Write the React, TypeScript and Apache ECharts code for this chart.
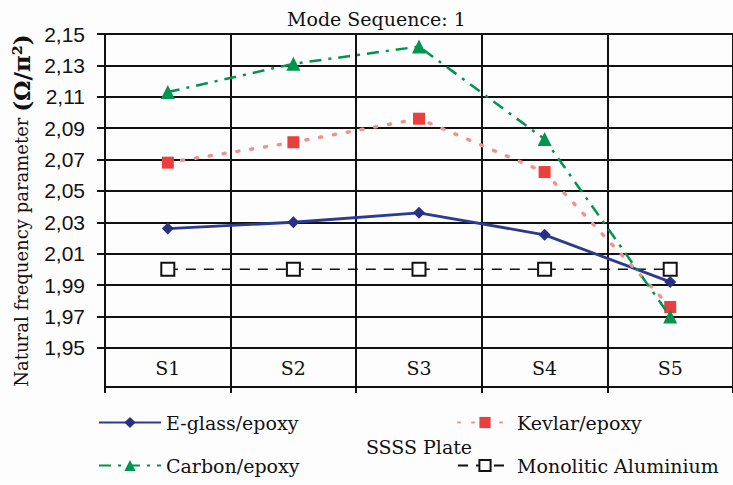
import React, { useEffect, useRef } from "react";
import * as echarts from "echarts";

const categories = ["S1", "S2", "S3", "S4", "S5"];
const eglass = [2.026, 2.03, 2.036, 2.022, 1.992];
const kevlar = [2.068, 2.081, 2.096, 2.062, 1.976];
const carbon = [2.113, 2.131, 2.142, 2.083, 1.97];
const aluminium = [2.0, 2.0, 2.0, 2.0, 2.0];
const yTicks = [1.95, 1.97, 1.99, 2.01, 2.03, 2.05, 2.07, 2.09, 2.11, 2.13, 2.15];
const yMin = 1.925;
const yMax = 2.15;

const SERIF = "DejaVu Serif";

export default function App() {
  const ref = useRef<HTMLDivElement>(null);
  useEffect(() => {
    if (!ref.current) return;
    const chart = echarts.init(ref.current, null, { renderer: "svg" });
    const gridLine = { color: "#111", width: 2 };
    chart.setOption({
      animation: false,
      backgroundColor: "#fdfdfe",
      title: {
        text: "Mode Sequence: 1",
        left: 282,
        top: 4,
        textStyle: { fontFamily: SERIF, fontSize: 19, fontWeight: "normal", color: "#111" },
      },
      grid: { left: 105, top: 34, width: 634, height: 353 },
      xAxis: {
        type: "category",
        data: categories,
        boundaryGap: true,
        name: "SSSS Plate",
        nameLocation: "middle",
        nameGap: 50,
        nameTextStyle: { fontFamily: SERIF, fontSize: 19, color: "#111" },
        axisLine: { lineStyle: gridLine },
        axisTick: { show: true, length: 6, lineStyle: gridLine },
        splitLine: { show: true, lineStyle: gridLine },
        axisLabel: { inside: true, margin: 10, fontFamily: SERIF, fontSize: 19, color: "#111" },
      },
      yAxis: {
        type: "value",
        min: yMin,
        max: yMax,
        name: "{a|Natural frequency parameter }{b|(Ω/π²)}",
        nameLocation: "middle",
        nameGap: 72,
        nameRotate: 90,
        nameTextStyle: {
          rich: {
            a: { fontFamily: SERIF, fontSize: 18, color: "#111" },
            b: { fontFamily: SERIF, fontSize: 23, fontWeight: "bold", color: "#111" },
          },
        },
        axisLine: { show: true, lineStyle: gridLine },
        axisTick: { show: true, length: 8, lineStyle: gridLine, customValues: yTicks },
        splitLine: { show: true, lineStyle: gridLine },
        axisLabel: {
          customValues: yTicks,
          margin: 20,
          fontFamily: "Liberation Sans",
          fontSize: 21,
          color: "#111",
          formatter: (v: number) => v.toFixed(2).replace(".", ","),
        },
      },
      legend: [
        {
          data: ["E-glass/epoxy", "Carbon/epoxy"],
          orient: "vertical",
          left: 98,
          top: 413,
          padding: 0,
          itemWidth: 62,
          itemHeight: 14,
          itemGap: 24,
          textStyle: { fontFamily: SERIF, fontSize: 19, color: "#111" },
        },
        {
          data: ["Kevlar/epoxy", "Monolitic Aluminium"],
          orient: "vertical",
          left: 457,
          top: 413,
          padding: 0,
          itemWidth: 54,
          itemHeight: 14,
          itemGap: 24,
          textStyle: { fontFamily: SERIF, fontSize: 19, color: "#111" },
        },
      ],
      series: [
        {
          name: "Monolitic Aluminium",
          type: "line",
          data: aluminium,
          symbol: "rect",
          symbolSize: 13,
          lineStyle: { color: "#111", width: 1.5, type: [10, 8] },
          itemStyle: { color: "#fff", borderColor: "#111", borderWidth: 2 },
          z: 2,
        },
        {
          name: "E-glass/epoxy",
          type: "line",
          data: eglass,
          symbol: "diamond",
          symbolSize: 12,
          lineStyle: { color: "#2d3a92", width: 2.8 },
          itemStyle: { color: "#2a2f86" },
          z: 3,
        },
        {
          name: "Kevlar/epoxy",
          type: "line",
          data: kevlar,
          symbol: "rect",
          symbolSize: 12,
          lineStyle: { color: "#f2928c", width: 3.5, type: [2, 12], cap: "round" },
          itemStyle: { color: "#ea3f3c" },
          z: 4,
        },
        {
          name: "Carbon/epoxy",
          type: "line",
          data: carbon,
          symbol: "triangle",
          symbolSize: 14,
          lineStyle: { color: "#00954c", width: 2.5, type: [12, 7, 3, 7] },
          itemStyle: { color: "#00954c" },
          z: 5,
        },
      ],
    });
    return () => chart.dispose();
  }, []);
  return (
    <div
      ref={ref}
      style={{ position: "fixed", left: 0, top: 0, width: 733, height: 485 }}
    />
  );
}
